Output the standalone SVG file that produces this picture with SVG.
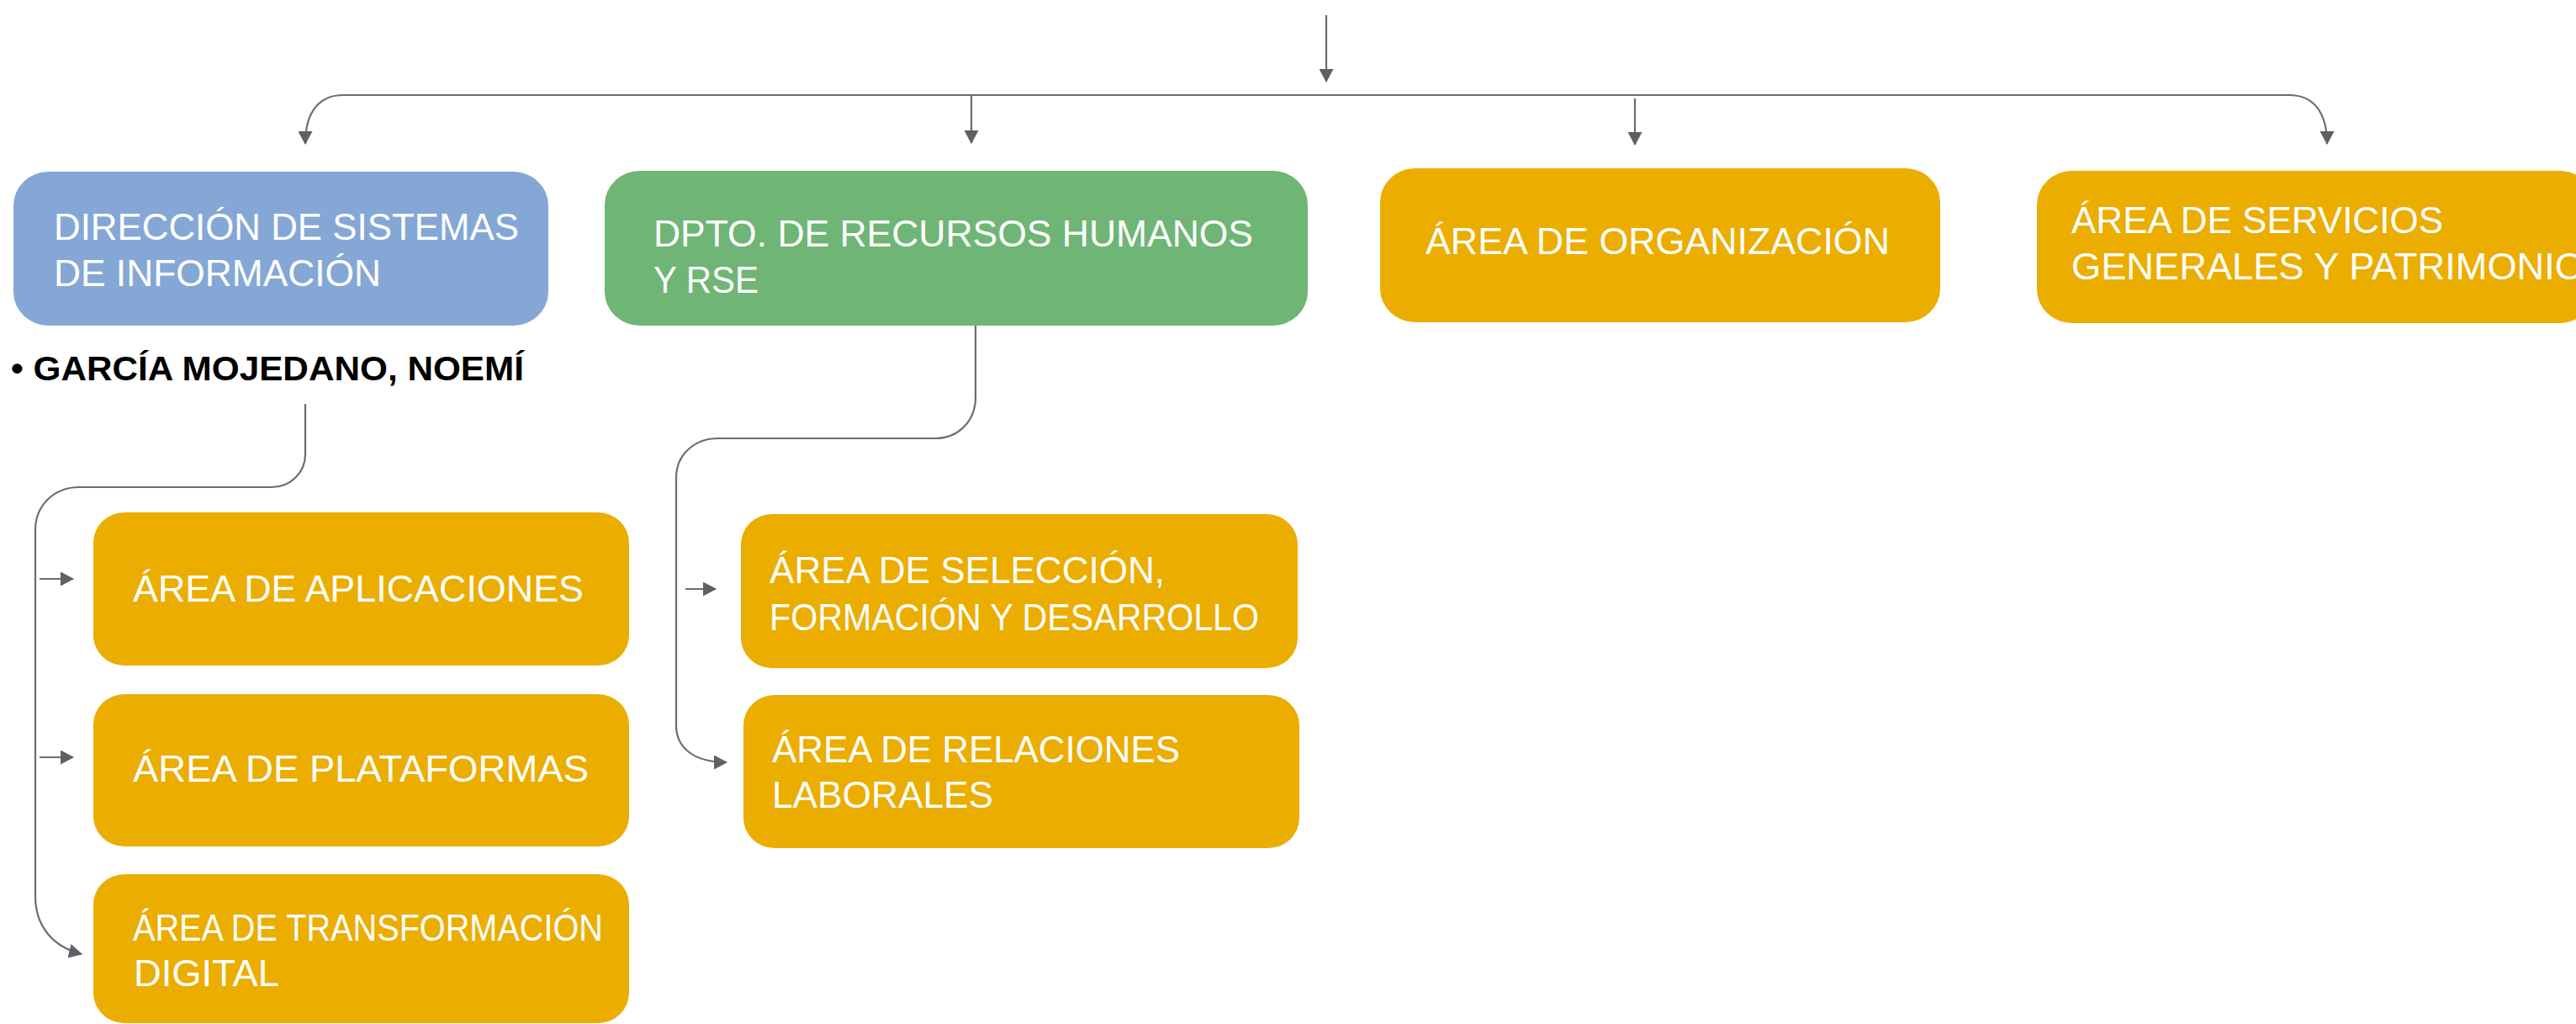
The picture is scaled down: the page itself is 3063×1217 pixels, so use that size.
<svg xmlns="http://www.w3.org/2000/svg" width="3063" height="1217" viewBox="0 0 3063 1217">
<defs>
<marker id="arr" viewBox="0 0 16 17" refX="15" refY="8.5" markerWidth="16" markerHeight="17" markerUnits="userSpaceOnUse" orient="auto">
<path d="M0 0 L16 8.5 L0 17 Z" fill="#5f6066"/>
</marker>
<style>
.c{fill:none;stroke:#6b6c72;stroke-width:2.2}
.t{font-family:"Liberation Sans",Arial,sans-serif;font-size:44px;fill:#ffffff}
.b{fill:#84a7d6}
.g{fill:#6fb576}
.y{fill:#ebad00}
.n{font-family:"Liberation Sans",Arial,sans-serif;font-size:41px;font-weight:bold;fill:#000000}
</style>
</defs>
<rect width="3063" height="1217" fill="#ffffff"/>
<g id="connectors">
<path class="c" d="M1577 18 V97" marker-end="url(#arr)"/>
<path class="c" d="M1577 113 H408 C382 113 363 130 363 171" marker-end="url(#arr)"/>
<path class="c" d="M1577 113 H2722 C2748 113 2767 130 2767 171" marker-end="url(#arr)"/>
<path class="c" d="M1155 113 V170" marker-end="url(#arr)"/>
<path class="c" d="M1944 117 V172" marker-end="url(#arr)"/>
<path class="c" d="M363 480 V540 C363 562 345 579 323 579 H94 C65 579 42 600 42 630 V1065 C42 1100 62 1125 97 1134" marker-end="url(#arr)"/>
<path class="c" d="M47 688 H87" marker-end="url(#arr)"/>
<path class="c" d="M47 900 H87" marker-end="url(#arr)"/>
<path class="c" d="M1160 387 V472 C1160 500 1140 521 1112 521 H854 C826 521 804 540 804 568 V862 C804 888 824 906 864 906" marker-end="url(#arr)"/>
<path class="c" d="M815 700 H851" marker-end="url(#arr)"/>
</g>
<g id="n-direccion">
<rect class="b" x="16" y="204" width="636" height="183" rx="42" ry="40"/>
<text class="t" x="64" y="285" textLength="553" lengthAdjust="spacingAndGlyphs">DIRECCIÓN DE SISTEMAS</text>
<text class="t" x="64" y="340" textLength="389" lengthAdjust="spacingAndGlyphs">DE INFORMACIÓN</text>
</g>
<g id="n-garcia">
<text class="n" x="13" y="452" textLength="610" lengthAdjust="spacingAndGlyphs">• GARCÍA MOJEDANO, NOEMÍ</text>
</g>
<g id="n-rrhh">
<rect class="g" x="719" y="203" width="836" height="184" rx="42" ry="40"/>
<text class="t" x="777" y="293" textLength="713" lengthAdjust="spacingAndGlyphs">DPTO. DE RECURSOS HUMANOS</text>
<text class="t" x="777" y="348" textLength="125" lengthAdjust="spacingAndGlyphs">Y RSE</text>
</g>
<g id="n-organizacion">
<rect class="y" x="1641" y="200" width="666" height="183" rx="42" ry="40"/>
<text class="t" x="1695" y="302" textLength="552" lengthAdjust="spacingAndGlyphs">ÁREA DE ORGANIZACIÓN</text>
</g>
<g id="n-servicios">
<rect class="y" x="2422" y="203" width="663" height="181" rx="42" ry="40"/>
<text class="t" x="2463" y="277" textLength="442" lengthAdjust="spacingAndGlyphs">ÁREA DE SERVICIOS</text>
<text class="t" x="2463" y="332" textLength="610" lengthAdjust="spacingAndGlyphs">GENERALES Y PATRIMONIO</text>
</g>
<g id="n-aplicaciones">
<rect class="y" x="111" y="609" width="637" height="182" rx="37" ry="36"/>
<text class="t" x="158" y="715" textLength="536" lengthAdjust="spacingAndGlyphs">ÁREA DE APLICACIONES</text>
</g>
<g id="n-plataformas">
<rect class="y" x="111" y="825" width="637" height="181" rx="37" ry="36"/>
<text class="t" x="158" y="929" textLength="542" lengthAdjust="spacingAndGlyphs">ÁREA DE PLATAFORMAS</text>
</g>
<g id="n-transformacion">
<rect class="y" x="111" y="1039" width="637" height="177" rx="37" ry="36"/>
<text class="t" x="158" y="1118" textLength="559" lengthAdjust="spacingAndGlyphs">ÁREA DE TRANSFORMACIÓN</text>
<text class="t" x="159" y="1172" textLength="173" lengthAdjust="spacingAndGlyphs">DIGITAL</text>
</g>
<g id="n-seleccion">
<rect class="y" x="881" y="611" width="662" height="183" rx="37" ry="36"/>
<text class="t" x="915" y="693" textLength="470" lengthAdjust="spacingAndGlyphs">ÁREA DE SELECCIÓN,</text>
<text class="t" x="915" y="749" textLength="582" lengthAdjust="spacingAndGlyphs">FORMACIÓN Y DESARROLLO</text>
</g>
<g id="n-relaciones">
<rect class="y" x="884" y="826" width="661" height="182" rx="37" ry="36"/>
<text class="t" x="918" y="906" textLength="485" lengthAdjust="spacingAndGlyphs">ÁREA DE RELACIONES</text>
<text class="t" x="918" y="960" textLength="263" lengthAdjust="spacingAndGlyphs">LABORALES</text>
</g>
</svg>
